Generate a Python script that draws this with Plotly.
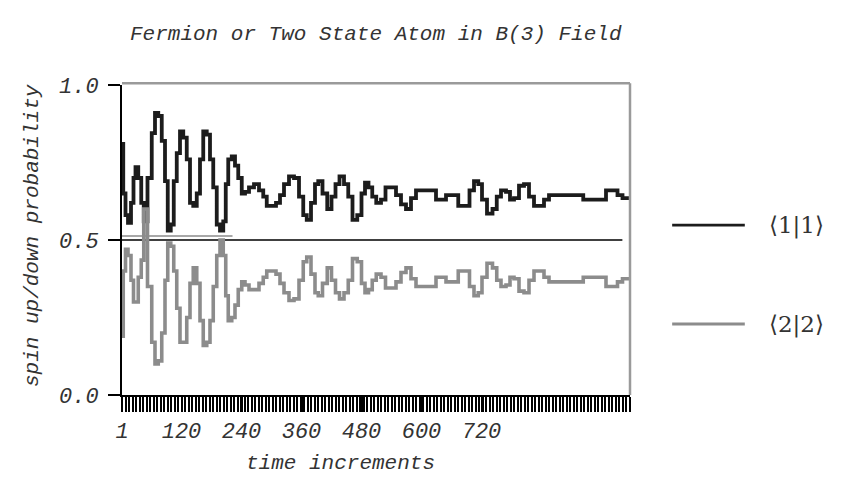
import plotly.graph_objects as go

# ---- data ----
time_steps = [1, 6, 10, 16, 22, 26, 30, 37, 42, 47,
              57, 64, 70, 77, 84, 90, 95, 102, 107, 114,
              120, 127, 134, 140, 147, 154, 160, 167, 174, 180,
              187, 194, 200, 207, 210, 217, 224, 230, 237, 244,
              250, 260, 270, 280, 287, 294, 304, 314, 320, 330,
              340, 350, 360, 367, 374, 384, 390, 397, 407, 416,
              424, 432, 440, 450, 457, 467, 476, 484, 490, 498,
              505, 514, 524, 532, 544, 554, 564, 574, 584, 594,
              607, 624, 634, 644, 654, 667, 680, 692, 700, 710,
              717, 725, 737, 747, 754, 764, 774, 780, 790, 800,
              810, 820, 830, 840, 850, 860, 890, 920, 927, 964,
              974, 987, 997, 1007, 1017]

p_up = [0.81, 0.65, 0.58, 0.555, 0.62, 0.70, 0.735, 0.70, 0.62, 0.56,
        0.70, 0.845, 0.91, 0.90, 0.82, 0.69, 0.53, 0.55, 0.69, 0.78,
        0.85, 0.83, 0.76, 0.62, 0.61, 0.65, 0.76, 0.85, 0.84, 0.76,
        0.67, 0.55, 0.53, 0.56, 0.68, 0.76, 0.77, 0.74, 0.70, 0.65,
        0.655, 0.67, 0.68, 0.66, 0.64, 0.61, 0.61, 0.62, 0.645, 0.68,
        0.705, 0.70, 0.64, 0.58, 0.565, 0.62, 0.68, 0.69, 0.65, 0.60,
        0.64, 0.68, 0.705, 0.68, 0.64, 0.565, 0.58, 0.65, 0.685, 0.67,
        0.64, 0.62, 0.63, 0.67, 0.67, 0.645, 0.615, 0.60, 0.635, 0.66,
        0.66, 0.66, 0.63, 0.63, 0.645, 0.645, 0.61, 0.61, 0.66, 0.69,
        0.68, 0.63, 0.585, 0.60, 0.64, 0.66, 0.655, 0.63, 0.635, 0.675,
        0.68, 0.64, 0.61, 0.61, 0.63, 0.645, 0.645, 0.645, 0.63, 0.63,
        0.66, 0.66, 0.645, 0.635, 0.635]

p_down = [0.19, 0.40, 0.47, 0.45, 0.37, 0.30, 0.30, 0.38, 0.435, 0.60,
          0.35, 0.17, 0.10, 0.11, 0.20, 0.37, 0.49, 0.48, 0.40, 0.28,
          0.17, 0.17, 0.25, 0.36, 0.41, 0.36, 0.24, 0.16, 0.17, 0.24,
          0.35, 0.45, 0.50, 0.45, 0.32, 0.24, 0.25, 0.29, 0.34, 0.365,
          0.355, 0.34, 0.34, 0.36, 0.38, 0.40, 0.40, 0.39, 0.36, 0.33,
          0.305, 0.31, 0.37, 0.43, 0.445, 0.39, 0.33, 0.32, 0.36, 0.41,
          0.37, 0.33, 0.31, 0.33, 0.37, 0.44, 0.43, 0.36, 0.33, 0.34,
          0.37, 0.39, 0.38, 0.345, 0.345, 0.365, 0.395, 0.41, 0.375, 0.35,
          0.35, 0.35, 0.38, 0.38, 0.365, 0.365, 0.40, 0.40, 0.35, 0.32,
          0.33, 0.38, 0.425, 0.41, 0.37, 0.35, 0.355, 0.38, 0.375, 0.335,
          0.33, 0.37, 0.40, 0.40, 0.38, 0.365, 0.365, 0.365, 0.38, 0.38,
          0.35, 0.35, 0.365, 0.375, 0.375]

series_names = ["⟨1|1⟩", "⟨2|2⟩"]
x_tick_vals = [1, 120, 240, 360, 480, 600, 720]
x_tick_text = ["1", "120", "240", "360", "480", "600", "720"]
y_tick_vals = [0.0, 0.5, 1.0]
y_tick_text = ["0.0", "0.5", "1.0"]
x_range = [1, 1017]
half_level = 0.5
marker_level = 0.513
marker_end = 222

title_text = "Fermion or Two State Atom in B(3) Field"
x_title = "time increments"
y_title = "spin up/down probability"

MONO = "Liberation Mono"
SERIF = "DejaVu Serif"
BLACK = "#1c1c1c"
GRAY = "#8c8c8c"

fig = go.Figure()
fig.add_trace(go.Scatter(x=time_steps, y=p_up, mode="lines", name=series_names[0],
                         line=dict(color=BLACK, width=3.8, shape="hvh"), showlegend=False))
fig.add_trace(go.Scatter(x=time_steps, y=p_down, mode="lines", name=series_names[1],
                         line=dict(color=GRAY, width=3.6, shape="hvh"), showlegend=False))

# reference line at 0.5 and faint marker line
fig.add_shape(type="line", xref="paper", x0=0, x1=0.985, yref="y", y0=half_level, y1=half_level,
              line=dict(color="black", width=1.5), layer="below")
fig.add_shape(type="line", xref="x", x0=x_range[0], x1=marker_end, yref="y",
              y0=marker_level, y1=marker_level, line=dict(color="#a8a8a8", width=2), layer="below")

# gray top/right frame
fig.add_shape(type="line", xref="paper", yref="paper", x0=0, x1=1, y0=1.006, y1=1.006,
              line=dict(color="#9a9a9a", width=2.5))
fig.add_shape(type="line", xref="paper", yref="paper", x0=1, x1=1, y0=0, y1=1.006,
              line=dict(color="#9a9a9a", width=2.5))

# legend drawn manually
leg_y = [0.548, 0.229]
leg_col = [BLACK, GRAY]
leg_w = [2.8, 2.8]
for name, yy, c, w in zip(series_names, leg_y, leg_col, leg_w):
    fig.add_shape(type="line", xref="paper", yref="paper", x0=1.083, x1=1.226, y0=yy, y1=yy,
                  line=dict(color=c, width=w))
    fig.add_annotation(xref="paper", yref="paper", x=1.27, y=yy, text=name, showarrow=False,
                       xanchor="left", yanchor="middle",
                       font=dict(family=SERIF, size=23, color="#333"))

fig.add_annotation(xref="paper", yref="paper", x=0.5, y=1.162, text=title_text, showarrow=False,
                   xanchor="center", yanchor="middle",
                   font=dict(family=MONO, size=21, color="#333", style="italic"))
fig.add_annotation(xref="paper", yref="paper", x=0.43, y=-0.22, text=x_title, showarrow=False,
                   xanchor="center", yanchor="middle",
                   font=dict(family=MONO, size=21, color="#333", style="italic"))
fig.add_annotation(xref="paper", yref="paper", x=-0.175, y=0.513, text=y_title, showarrow=False,
                   textangle=-90, xanchor="center", yanchor="middle",
                   font=dict(family=MONO, size=21, color="#333", style="italic"))

fig.update_layout(
    width=863, height=477,
    margin=dict(l=122, r=233, t=85, b=82),
    plot_bgcolor="white", paper_bgcolor="white",
    xaxis=dict(range=x_range, showline=True, linecolor="black", linewidth=2,
               showgrid=False, zeroline=False,
               tickmode="array", tickvals=x_tick_vals, ticktext=x_tick_text,
               ticks="outside", ticklen=15, tickwidth=2.2, tickcolor="black",
               tickfont=dict(family=MONO, size=22, color="#333", style="italic"),
               minor=dict(ticks="outside", ticklen=15, tickwidth=2.2, tickcolor="black",
                          tick0=1, dtick=7, showgrid=False)),
    yaxis=dict(range=[0, 1], showline=True, linecolor="black", linewidth=2,
               showgrid=False, zeroline=False,
               tickmode="array", tickvals=y_tick_vals, ticktext=y_tick_text,
               ticks="outside", ticklen=12, tickwidth=1.5, tickcolor="black",
               ticklabelstandoff=5,
               tickfont=dict(family=MONO, size=22, color="#333", style="italic")),
)

fig.write_html("out.html")
